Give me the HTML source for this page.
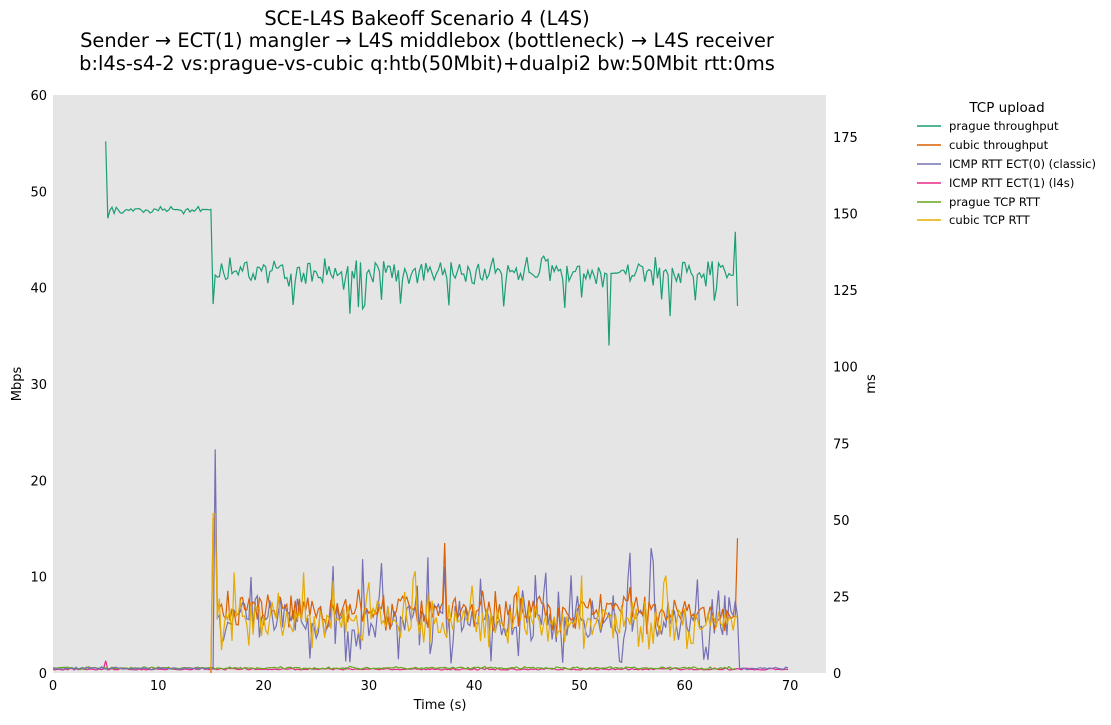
<!DOCTYPE html>
<html><head><meta charset="utf-8"><style>
body{margin:0;background:#fff;width:1111px;height:721px;overflow:hidden;font-family:"DejaVu Sans",sans-serif}
</style></head><body>
<svg id="s" width="1111" height="721" xmlns="http://www.w3.org/2000/svg" font-family="DejaVu Sans, sans-serif">
<rect x="53" y="95" width="773" height="578" fill="#e5e5e5"/>
<g font-size="19.4" text-anchor="middle" fill="#000">
<text x="427" y="25">SCE-L4S Bakeoff Scenario 4 (L4S)</text>
<text x="427" y="47">Sender → ECT(1) mangler → L4S middlebox (bottleneck) → L4S receiver</text>
<text x="427" y="70">b:l4s-s4-2 vs:prague-vs-cubic q:htb(50Mbit)+dualpi2 bw:50Mbit rtt:0ms</text>
</g>
<g id="ticks" font-size="13" fill="#000"></g>
<text x="440" y="709" font-size="13" text-anchor="middle">Time (s)</text>
<text transform="translate(21,384) rotate(-90)" font-size="13" text-anchor="middle">Mbps</text>
<text transform="translate(875,384) rotate(-90)" font-size="13" text-anchor="middle">ms</text>
<g id="plot" fill="none" stroke-width="1.2"></g>
<g font-size="11.6" fill="#000">
<text x="1007" y="112" font-size="13.5" text-anchor="middle">TCP upload</text>
<line x1="917" x2="941" y1="126" y2="126" stroke="#1b9e77" stroke-width="1.5"/><text x="949" y="130">prague throughput</text>
<line x1="917" x2="941" y1="145" y2="145" stroke="#d95f02" stroke-width="1.5"/><text x="949" y="149">cubic throughput</text>
<line x1="917" x2="941" y1="164" y2="164" stroke="#7570b3" stroke-width="1.5"/><text x="949" y="168">ICMP RTT ECT(0) (classic)</text>
<line x1="917" x2="941" y1="183" y2="183" stroke="#e7298a" stroke-width="1.5"/><text x="949" y="187">ICMP RTT ECT(1) (l4s)</text>
<line x1="917" x2="941" y1="202" y2="202" stroke="#66a61e" stroke-width="1.5"/><text x="949" y="206">prague TCP RTT</text>
<line x1="917" x2="941" y1="220" y2="220" stroke="#e6ab02" stroke-width="1.5"/><text x="949" y="224">cubic TCP RTT</text>
</g>
</svg>
<script>
var NS="http://www.w3.org/2000/svg";
function X(t){return 53+t*10.53}function YL(v){return 673-v*9.633}function YR(m){return 673-m*3.063}
var tk=document.getElementById('ticks'),h='';
for(var i=0;i<=70;i+=10)h+='<text x="'+X(i)+'" y="690" text-anchor="middle">'+i+'</text>';
for(var i=0;i<=60;i+=10)h+='<text x="47" y="'+(YL(i)+5)+'" text-anchor="end">'+i+'</text>';
for(var i=0;i<=175;i+=25)h+='<text x="833" y="'+(YR(i)+5)+'">'+i+'</text>';
tk.innerHTML=h;
var seed=7;function r(){seed=(seed*16807)%2147483647;return seed/2147483647}
function g(){return (r()+r()+r()-1.5)*1.4}
var P=document.getElementById('plot');
function line(pts,c){var p=document.createElementNS(NS,'polyline');p.setAttribute('points',pts.map(function(a){return a[0].toFixed(1)+','+a[1].toFixed(1)}).join(' '));p.setAttribute('stroke',c);P.appendChild(p)}
var a=[];
a=[];for(var t=0;t<=70;t+=0.2){var m=1+Math.abs(g())*0.4;if(Math.abs(t-5)<0.1)m=4;a.push([X(t),YR(m)])}line(a,'#e7298a');
a=[];for(var t=0;t<=65;t+=0.2){a.push([X(t),YR(1.6+g()*0.3)])}line(a,'#66a61e');
a=[];for(var t=0;t<=70;t+=0.2){var m;if(t<15.2||t>65.1)m=1.5+g()*0.3;else if(t<15.4)m=73;else{m=17+g()*6;if(r()<0.08)m=r()<0.5?3+r()*3:30+r()*12}a.push([X(t),YR(Math.max(0.5,m))])}line(a,'#7570b3');
a=[];for(var t=15;t<=65.05;t+=0.2){var v=t<15.1?0:t<15.4?16:6.5+g()*1.4;if(Math.abs(t-37.2)<0.1)v=13.5;if(t>64.9)v=14;a.push([X(t),YL(v)])}line(a,'#d95f02');
a=[];for(var t=15;t<=65.05;t+=0.2){var m=t<15.1?1:t<15.4?52:17+g()*5;if(r()<0.07)m=r()<0.5?7+r()*3:28+r()*6;a.push([X(t),YR(m)])}line(a,'#e6ab02');
a=[];for(var t=5.0;t<=65.05;t+=0.2){var v;if(t<5.1)v=55.2;else if(t<5.3)v=47.2;else if(t<15.1)v=48+g()*0.25;else if(t<15.35)v=38.3;else{v=41.6+g()*1;if(r()<0.06)v=37+r()*2;}if(Math.abs(t-52.8)<0.1)v=34;if(t>64.8&&t<65)v=45.8;if(t>=65)v=38.1;a.push([X(t),YL(v)])}line(a,'#1b9e77');
</script>
</body></html>
